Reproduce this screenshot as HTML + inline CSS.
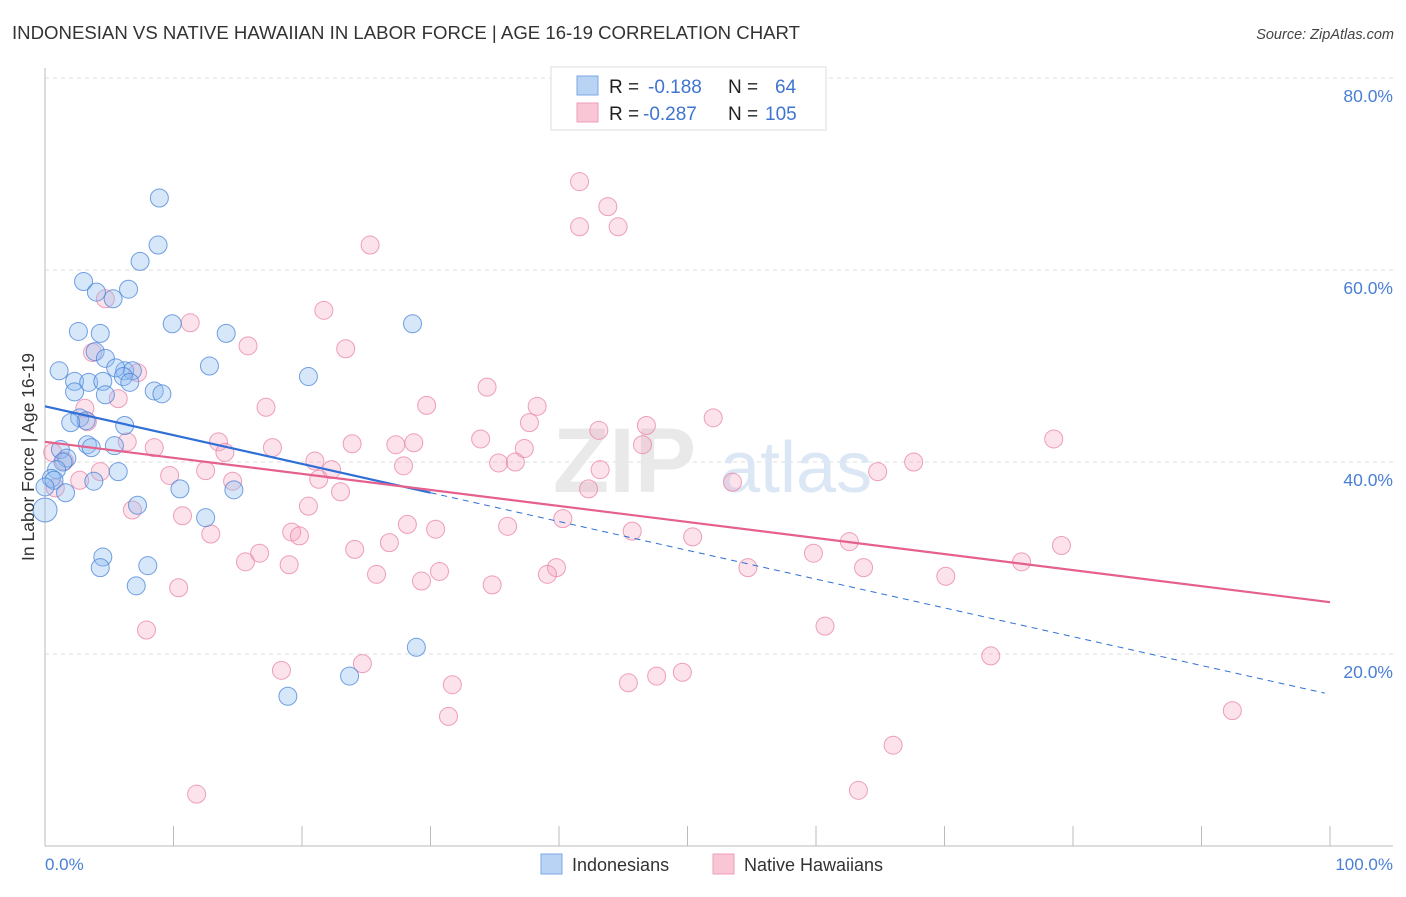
<!DOCTYPE html>
<html><head><meta charset="utf-8">
<style>
body{margin:0;background:#fff;font-family:"Liberation Sans",sans-serif;}
svg text{font-family:"Liberation Sans",sans-serif;}
</style></head>
<body>
<svg id="chart" width="1406" height="892" xmlns="http://www.w3.org/2000/svg">
<text x="12" y="39" font-size="18" fill="#333" textLength="788" lengthAdjust="spacingAndGlyphs">INDONESIAN VS NATIVE HAWAIIAN IN LABOR FORCE | AGE 16-19 CORRELATION CHART</text>
<text x="1394" y="39" font-size="14.5" fill="#444" text-anchor="end" font-style="italic">Source: ZipAtlas.com</text>
<g id="grid"></g>
<g>
<text x="553" y="492" font-size="92" fill="#e9e9e9" font-family="Liberation Serif" font-weight="bold">ZIP</text>
<text x="720" y="492" font-size="72" fill="#dbe7f5">atlas</text>
</g>
<line x1="45" y1="68" x2="45" y2="846" stroke="#bbb" stroke-width="1"/>
<line x1="45" y1="846" x2="1393" y2="846" stroke="#bbb" stroke-width="1"/>
<g id="ticks"></g>
<g id="pts"></g>
<g id="trends"></g>
<text transform="translate(34,457) rotate(-90)" font-size="17.5" fill="#333" text-anchor="middle">In Labor Force | Age 16-19</text>
<text x="45" y="870" font-size="17" fill="#4a7fd4">0.0%</text>
<text x="1393" y="870" font-size="17" fill="#4a7fd4" text-anchor="end">100.0%</text>
<g>
<rect x="551" y="67" width="275" height="63" fill="#fff" stroke="#ddd"/>
<rect x="577" y="76" width="21" height="19" fill="#b9d3f5" stroke="#7aa7e6"/>
<rect x="577" y="103" width="21" height="19" fill="#f9c6d6" stroke="#ee9fb7"/>
<text x="609" y="93" font-size="19" fill="#222">R = </text><text x="648" y="93" font-size="19" fill="#3f74d0">-0.188</text>
<text x="728" y="93" font-size="19" fill="#222">N = </text><text x="775" y="93" font-size="19" fill="#3f74d0">64</text>
<text x="609" y="120" font-size="19" fill="#222">R = </text><text x="643" y="120" font-size="19" fill="#3f74d0">-0.287</text>
<text x="728" y="120" font-size="19" fill="#222">N = </text><text x="765" y="120" font-size="19" fill="#3f74d0">105</text>
</g>
<g>
<rect x="541" y="854" width="21" height="20" fill="#b9d3f5" stroke="#7aa7e6"/>
<text x="572" y="871" font-size="18" fill="#333">Indonesians</text>
<rect x="713" y="854" width="21" height="20" fill="#f9c6d6" stroke="#ee9fb7"/>
<text x="744" y="871" font-size="18" fill="#333">Native Hawaiians</text>
</g>
</svg>
<script>
const yTicks=[20,40,60,80];
const yTickLabels=["20.0%","40.0%","60.0%","80.0%"];
const xTicks=[0,10,20,30,40,50,60,70,80,90,100];
const blueX=[8.9,8.8,7.4,3.0,4.0,6.5,5.3,9.9,2.6,4.3,14.1,28.6,3.9,4.7,1.1,2.3,3.4,4.5,6.2,6.8,5.5,6.1,6.6,12.8,20.5,2.3,4.7,8.5,9.1,2.7,3.2,2.0,6.2,3.3,3.6,5.4,1.2,1.7,1.4,0.9,5.7,0.5,0.7,3.8,0.0,1.6,10.5,14.7,7.2,12.5,0.0,4.5,4.3,8.0,7.1,28.9,23.7,18.9];
const blueY=[67.5,62.6,60.9,58.8,57.7,58.0,57.0,54.4,53.6,53.4,53.4,54.4,51.5,50.8,49.5,48.4,48.3,48.4,49.5,49.5,49.8,48.9,48.3,50.0,48.9,47.3,47.0,47.4,47.1,44.6,44.3,44.1,43.8,41.8,41.5,41.7,41.3,40.4,40.0,39.2,39.0,38.3,38.1,38.0,37.4,36.8,37.2,37.1,35.5,34.2,35.0,30.1,29.0,29.2,27.1,20.7,17.7,15.6];
const pinkX=[41.6,43.8,41.6,44.6,25.3,4.7,21.7,11.3,15.8,23.4,3.7,7.2,34.4,5.7,3.1,17.2,29.7,38.3,52.0,3.3,37.7,43.1,46.8,46.5,78.5,13.5,14.0,8.5,6.4,17.7,23.9,27.3,28.7,37.3,33.9,21.0,27.9,35.3,36.6,67.6,1.5,4.3,9.7,12.5,14.6,22.3,21.3,43.2,64.8,53.5,2.7,42.3,23.0,20.5,10.7,6.8,40.3,28.2,30.4,36.0,45.7,19.2,19.8,12.9,50.4,62.6,79.1,24.1,26.8,16.7,15.6,19.0,59.8,25.8,30.7,39.8,39.1,54.7,63.7,70.1,76.0,29.3,34.8,10.4,7.9,60.7,18.4,24.7,73.6,31.7,45.4,47.6,49.6,31.4,92.4,66.0,11.8,63.3,0.6,0.8];
const pinkY=[69.2,66.6,64.5,64.5,62.6,57.0,55.8,54.5,52.1,51.8,51.4,49.3,47.8,46.6,45.6,45.7,45.9,45.8,44.6,44.2,44.1,43.3,43.8,41.8,42.4,42.1,41.0,41.5,42.1,41.5,41.9,41.8,42.0,41.4,42.4,40.1,39.6,39.9,40.0,40.0,40.1,39.0,38.6,39.1,38.0,39.2,38.2,39.2,39.0,37.9,38.1,37.2,36.9,35.4,34.4,35.0,34.1,33.5,33.0,33.3,32.8,32.7,32.3,32.5,32.2,31.7,31.3,30.9,31.6,30.5,29.6,29.3,30.5,28.3,28.6,29.0,28.3,29.0,29.0,28.1,29.6,27.6,27.2,26.9,22.5,22.9,18.3,19.0,19.8,16.8,17.0,17.7,18.1,13.5,14.1,10.5,5.4,5.8,41.0,37.3];
const blueTrend=[45.8,-0.30];
const pinkTrend=[42.1,-0.167];
const NS="http://www.w3.org/2000/svg";
const X=v=>45+v*12.85;
const Y=v=>846-v*9.6;
function mk(tag,attrs,parent){const e=document.createElementNS(NS,tag);for(const k in attrs)e.setAttribute(k,attrs[k]);parent.appendChild(e);return e;}
const grid=document.getElementById('grid');
yTicks.forEach((t,i)=>{
  const l=mk('line',{x1:45,x2:1393,y1:Y(t),y2:Y(t),stroke:'#ddd','stroke-dasharray':'4,4'},grid);
  
  
  const tx=mk('text',{x:1393,y:Y(t)+24,'font-size':17.5,fill:'#4a7fd4','text-anchor':'end'},grid);
  tx.textContent=yTickLabels[i];
  
  
});
const ticks=document.getElementById('ticks');
xTicks.forEach(t=>{
  const l=mk('line',{x1:X(t),x2:X(t),y1:826,y2:846,stroke:'#bbb'},ticks);
  
  
});
const pts=document.getElementById('pts');
pinkX.forEach((x,i)=>{
  const c=mk('circle',{cx:X(x),cy:Y(pinkY[i]),r:9,fill:'rgba(244,160,188,0.3)',stroke:'rgba(232,130,165,0.75)','stroke-width':1},pts);
  
  
});
blueX.forEach((x,i)=>{
  const c=mk('circle',{cx:X(x),cy:Y(blueY[i]),r:(i==50?12:9),fill:'rgba(140,185,240,0.35)',stroke:'rgba(70,130,215,0.75)','stroke-width':1},pts);
  
  
});
const tr=document.getElementById('trends');
const b1=mk('line',{x1:X(0),y1:Y(blueTrend[0]),x2:X(30),y2:Y(blueTrend[0]+blueTrend[1]*30),stroke:'#2f6fd6','stroke-width':2.2},tr);


const b2=mk('line',{x1:X(30),y1:Y(blueTrend[0]+blueTrend[1]*30),x2:X(99.6),y2:Y(blueTrend[0]+blueTrend[1]*99.6),stroke:'#2f6fd6','stroke-width':1,'stroke-dasharray':'6,5'},tr);


const p1=mk('line',{x1:X(0),y1:Y(pinkTrend[0]),x2:X(100),y2:Y(pinkTrend[0]+pinkTrend[1]*100),stroke:'#e5608c','stroke-width':2.2},tr);


</script>
</body></html>
